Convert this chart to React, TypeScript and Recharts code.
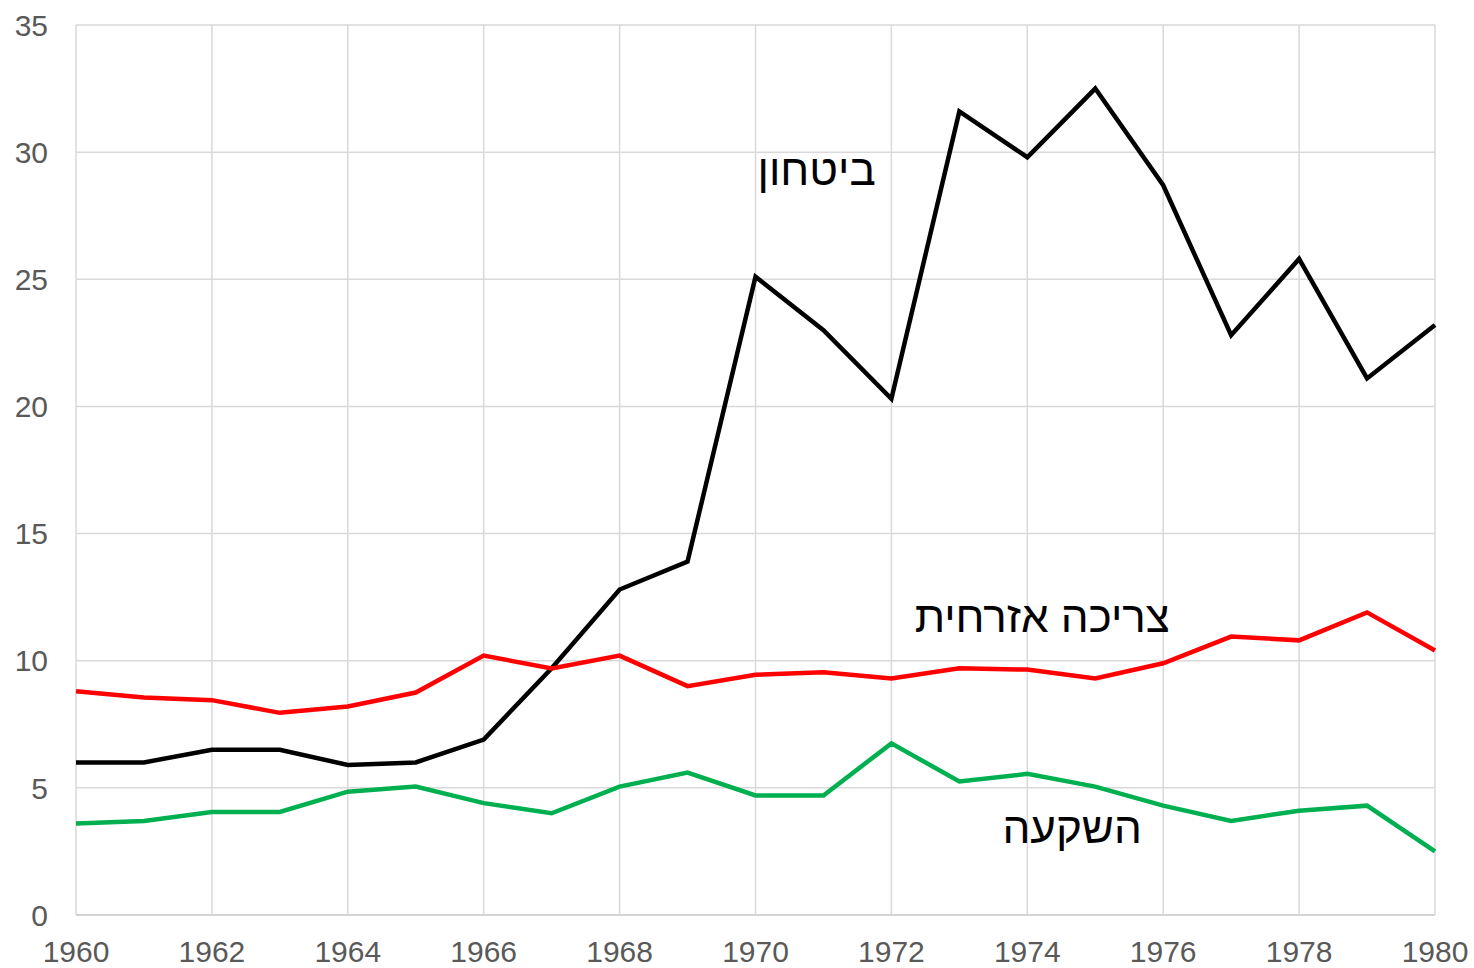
// Defence, civil consumption and investment, 1960-1980
import React from "react";
import { LineChart, Line, XAxis, YAxis, CartesianGrid, ReferenceDot } from "recharts";

const years = [1960, 1961, 1962, 1963, 1964, 1965, 1966, 1967, 1968, 1969, 1970, 1971, 1972, 1973, 1974, 1975, 1976, 1977, 1978, 1979, 1980];
const defence = [6.0, 6.0, 6.5, 6.5, 5.9, 6.0, 6.9, 9.7, 12.8, 13.9, 25.1, 23.0, 20.3, 31.6, 29.8, 32.5, 28.7, 22.8, 25.8, 21.1, 23.2];
const civilConsumption = [8.8, 8.55, 8.45, 7.95, 8.2, 8.75, 10.2, 9.7, 10.2, 9.0, 9.45, 9.55, 9.3, 9.7, 9.65, 9.3, 9.9, 10.95, 10.8, 11.9, 10.4];
const investment = [3.6, 3.7, 4.05, 4.05, 4.85, 5.05, 4.4, 4.0, 5.05, 5.6, 4.7, 4.7, 6.75, 5.25, 5.55, 5.05, 4.3, 3.7, 4.1, 4.3, 2.5];

const xTicks = [1960, 1962, 1964, 1966, 1968, 1970, 1972, 1974, 1976, 1978, 1980];
const yTicks = [0, 5, 10, 15, 20, 25, 30, 35];

// series name labels placed inside the plot
const labels = [
  { text: "ביטחון", x: 1970.9, y: 29.3 },
  { text: "צריכה אזרחית", x: 1974.22, y: 11.72 },
  { text: "השקעה", x: 1974.66, y: 3.46 },
];

const data = years.map((year, i) => ({
  year,
  defence: defence[i],
  civil: civilConsumption[i],
  investment: investment[i],
}));

const font = "'Liberation Sans', Arial, sans-serif";

export default function App() {
  return (
    <div style={{ position: "absolute", left: 0, top: 0, background: "#fff" }}>
      <LineChart width={1474} height={968} data={data} margin={{ top: 25, right: 39, bottom: 0, left: 0 }}>
        <CartesianGrid stroke="#d9d9d9" strokeWidth={1.5} />
        <XAxis
          dataKey="year"
          type="number"
          domain={[1960, 1980]}
          ticks={xTicks}
          height={53}
          tickSize={0}
          tickMargin={26}
          stroke="#cfcfcf"
          strokeWidth={1.5}
          tick={{ fill: "#595959", fontSize: 30, fontFamily: font }}
        />
        <YAxis
          domain={[0, 35]}
          ticks={yTicks}
          width={76}
          axisLine={false}
          tickLine={false}
          tickSize={0}
          tickMargin={28}
          tick={{ fill: "#595959", fontSize: 30, fontFamily: font }}
        />
        <Line type="linear" dataKey="defence" stroke="#000000" strokeWidth={4.5} dot={false} isAnimationActive={false} />
        <Line type="linear" dataKey="civil" stroke="#ff0000" strokeWidth={4.5} dot={false} isAnimationActive={false} />
        <Line type="linear" dataKey="investment" stroke="#00b050" strokeWidth={4.5} dot={false} isAnimationActive={false} />
        {labels.map((l) => (
          <ReferenceDot
            key={l.text}
            x={l.x}
            y={l.y}
            r={0}
            shape={(props: any) => (
              <text
                x={props.cx}
                y={props.cy}
                textAnchor="middle"
                dominantBaseline="central"
                fontSize={44}
                fontFamily={font}
                fill="#000"
              >
                {l.text}
              </text>
            )}
          />
        ))}
      </LineChart>
    </div>
  );
}
